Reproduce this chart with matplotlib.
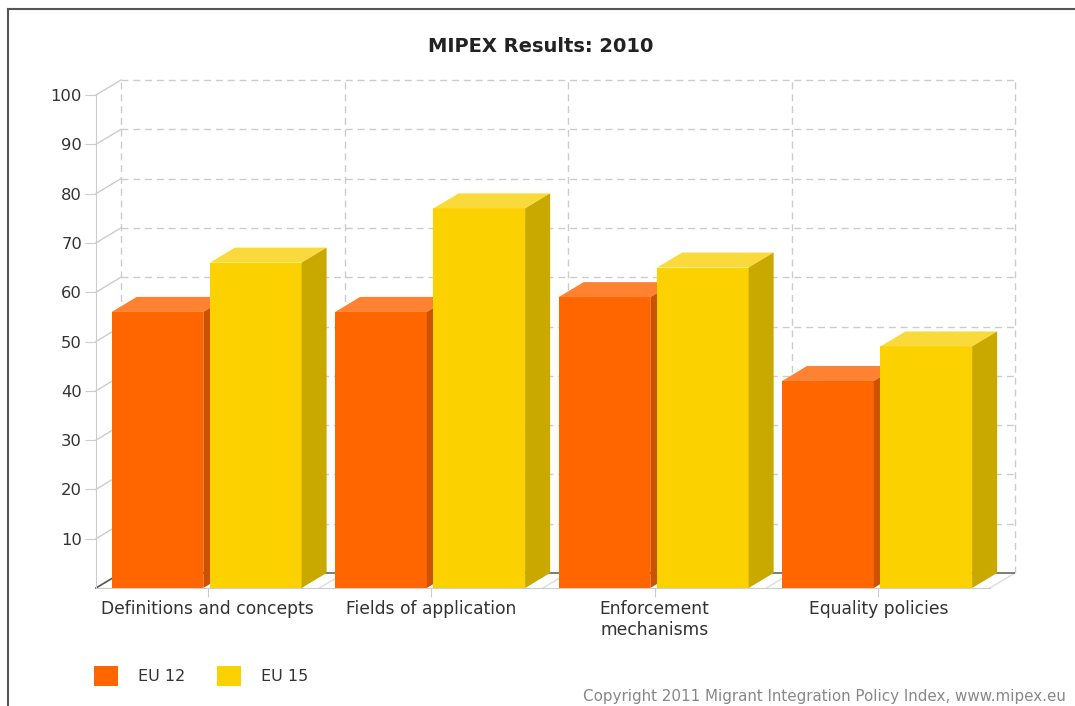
import matplotlib
matplotlib.use("Agg")
import numpy as np
import matplotlib.pyplot as plt
from matplotlib.patches import Polygon
from matplotlib.lines import Line2D

# data
categories = ["Definitions and concepts", "Fields of application",
              "Enforcement\nmechanisms", "Equality policies"]
series_names = ["EU 12", "EU 15"]
eu12 = [56, 56, 59, 42]
eu15 = [66, 77, 65, 49]
y_ticks = list(range(10, 101, 10))

# colours: front, top, side
COLORS = {
    "EU 12": ("#FF6600", "#FF8233", "#CC5200"),
    "EU 15": ("#FCD100", "#F9DA3A", "#C9A800"),
}

W, H = 1075, 706
PX_PER_CAT = 223.5
PX_PER_UNIT = 4.93
DX = 25 / PX_PER_CAT      # depth offset in x data units
DY = 15 / PX_PER_UNIT     # depth offset in y data units
BAR_W = 0.41
OFFSETS = [0.070, 0.510]
GRID = "#cccccc"

fig = plt.figure(figsize=(W / 100, H / 100), dpi=100)
ax = fig.add_axes([96 / W, (H - 588) / H, (4 * PX_PER_CAT + 25) / W,
                   (100 * PX_PER_UNIT + 15) / H])
ax.set_xlim(0, 4 + DX)
ax.set_ylim(0, 100 + DY)
ax.patch.set_alpha(0)

# back wall grid (dashed)
ax.hlines([t + DY for t in y_ticks], DX, 4 + DX, colors=GRID, lw=1,
          linestyles=(0, (5, 3.5)), clip_on=False, zorder=1)
ax.vlines(np.arange(5) + DX, DY, 100 + DY, colors=GRID, lw=1,
          linestyles=(0, (5, 3.5)), clip_on=False, zorder=1)

# side wall diagonals at each tick
for t in y_ticks:
    ax.plot([0, DX], [t, t + DY], color=GRID, lw=1, clip_on=False, zorder=1)
# floor diagonals
for i in range(1, 5):
    ax.plot([i, i + DX], [0, DY], color="#dddddd", lw=1, clip_on=False, zorder=1)
ax.plot([0, DX], [0, DY], color="#555555", lw=1.2, clip_on=False, zorder=1)
ax.hlines(DY, DX, 4 + DX, colors="#666666", lw=1.2, zorder=1)

# bars with fake 3D faces
for s, (name, vals) in enumerate(zip(series_names, [eu12, eu15])):
    front, top, side = COLORS[name]
    lefts = np.arange(len(categories)) + OFFSETS[s]
    ax.bar(lefts, vals, width=BAR_W, align="edge", color=front,
           label=name, zorder=3)

for i in range(len(categories)):
    for s, (name, vals) in enumerate(zip(series_names, [eu12, eu15])):
        front, top, side = COLORS[name]
        l = i + OFFSETS[s]
        r = l + BAR_W
        v = vals[i]
        z = 3 + 2 * i + s
        # redraw front so later bars overlap earlier side faces
        ax.add_patch(Polygon([(l, 0), (r, 0), (r, v), (l, v)],
                             closed=True, fc=front, ec="none", zorder=z + 0.5))
        ax.add_patch(Polygon([(l, v), (r, v), (r + DX, v + DY), (l + DX, v + DY)],
                             closed=True, fc=top, ec="none", zorder=z + 0.5))
        ax.add_patch(Polygon([(r, 0), (r + DX, DY), (r + DX, v + DY), (r, v)],
                             closed=True, fc=side, ec="none", zorder=z + 0.5))

# axes
for k in ["top", "right"]:
    ax.spines[k].set_visible(False)
ax.spines["left"].set_color(GRID)
ax.spines["left"].set_bounds(0, 100)
ax.spines["bottom"].set_color(GRID)
ax.spines["bottom"].set_bounds(0, 4)
ax.spines["bottom"].set_zorder(20)

ax.set_yticks(y_ticks)
ax.set_yticklabels([str(t) for t in y_ticks])
ax.tick_params(axis="y", length=8, color=GRID, labelsize=11.8,
               labelcolor="#333333", pad=2)
ax.set_xticks(np.arange(len(categories)) + 0.5)
ax.set_xticklabels(categories, linespacing=1.2)
ax.tick_params(axis="x", length=6.5, color=GRID, labelsize=12.3,
               labelcolor="#333333", pad=2)

fig.text(541 / W, 1 - 47 / H, "MIPEX Results: 2010", ha="center",
         va="center", fontsize=14, fontweight="bold", color="#222222")

handles, labels = ax.get_legend_handles_labels()
fig.legend(handles, labels, loc="center left",
           bbox_to_anchor=(80 / W, 1 - 676 / H), ncol=2, frameon=False,
           fontsize=11.5, handlelength=1.5, handleheight=1.5,
           handletextpad=1.25, columnspacing=1.95, labelcolor="#333333")

fig.text(583 / W, 1 - 697 / H,
         "Copyright 2011 Migrant Integration Policy Index, www.mipex.eu",
         ha="left", va="center", fontsize=10.9, color="#888888")

# outer frame (left and top edges visible)
fig.add_artist(Line2D([8 / W, 8 / W], [0, 1 - 9 / H], color="#555555",
                      lw=1.5, transform=fig.transFigure))
fig.add_artist(Line2D([8 / W, 1], [1 - 9 / H, 1 - 9 / H], color="#555555",
                      lw=1.5, transform=fig.transFigure))

fig.savefig("out.png", dpi=100)
